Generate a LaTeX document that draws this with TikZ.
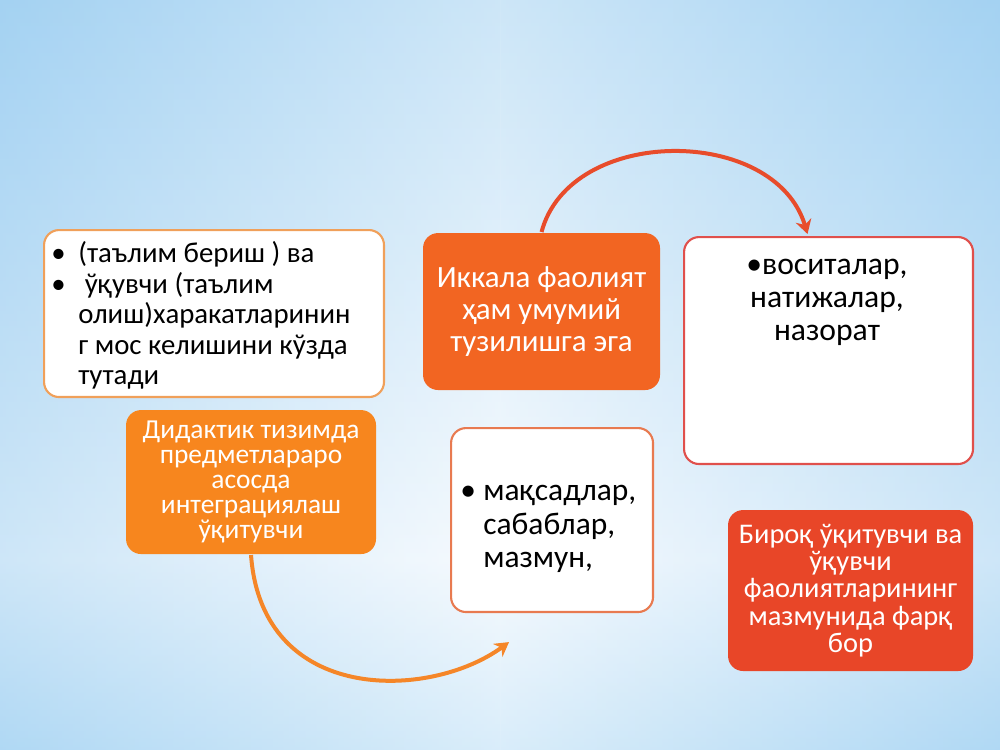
\documentclass[tikz,border=0pt]{standalone}
\usepackage{fontspec}
\setmainfont{Carlito}
\usetikzlibrary{arrows.meta,calc}
\definecolor{bgtop}{RGB}{164,210,242}
\definecolor{bgmid}{RGB}{240,247,253}
\definecolor{bgbot}{RGB}{186,222,246}
\definecolor{lorange}{RGB}{240,160,90}
\definecolor{dorange}{RGB}{242,101,34}
\definecolor{morange}{RGB}{247,134,30}
\definecolor{redor}{RGB}{232,70,40}
\definecolor{redbord}{RGB}{224,80,76}
\definecolor{b5bord}{RGB}{232,122,80}
\definecolor{arcred}{RGB}{232,76,43}
\definecolor{arcor}{RGB}{245,134,40}
\tikzset{
  box/.style={rounded corners=0.3cm, line width=1.2pt, anchor=north west, inner sep=0pt},
  wbox/.style={box, fill=white},
  fbox/.style={box, text=white, align=center},
  arcline/.style={line width=0.08cm, -{Stealth[length=0.28cm,width=0.32cm]}},
}
\begin{document}
\begin{tikzpicture}[x=0.02cm,y=-0.02cm]
\useasboundingbox (0,0) rectangle (1000,750);
% background
\shade[top color=bgtop, bottom color=bgmid] (0,0) rectangle (1000,560);
\shade[top color=bgmid, bottom color=bgbot] (0,560) rectangle (1000,750);
\shade[left color=bgtop, right color=white, opacity=0.45] (0,0) rectangle (500,750);
\shade[left color=white, right color=bgtop, opacity=0.45] (500,0) rectangle (1000,750);
% box 1
\node[wbox, draw=lorange, minimum width=6.8cm, minimum height=3.34cm] (b1) at (43,229) {};
\node[anchor=north west, align=left, inner sep=0pt, font=\fontsize{16.4}{17.4}\selectfont] (t1) at (51,241)
 {\makebox[0.54cm][l]{•}(таълим бериш ) ва\\
  \makebox[0.54cm][l]{•} ўқувчи (таълим\\
  \hspace*{0.54cm}олиш)харакатларинин\\
  \hspace*{0.54cm}г мос келишини кўзда\\
  \hspace*{0.54cm}тутади};
% box 2
\node[fbox, fill=dorange, minimum width=4.74cm, minimum height=3.14cm, font=\fontsize{17.6}{18.4}\selectfont] (b2) at (422,232)
 {Иккала фаолият\\ ҳам умумий\\ тузилишга эга};
% box 3
\node[wbox, draw=redbord, minimum width=5.78cm, minimum height=4.54cm] (b3) at (683,236) {};
\node[anchor=north, align=center, inner sep=0pt, font=\fontsize{18}{18.8}\selectfont] (t3) at (827,259)
 {•воситалар,\\ натижалар,\\ назорат};
% box 4
\node[fbox, fill=morange, minimum width=5cm, minimum height=2.88cm, font=\fontsize{15.6}{14.2}\selectfont] (b4) at (125,409)
 {Дидактик тизимда\\ предметлараро\\ асосда\\ интеграциялаш\\ ўқитувчи};
% box 5
\node[wbox, draw=b5bord, minimum width=4.04cm, minimum height=3.68cm] (b5) at (450,427) {};
\node[anchor=north west, align=left, inner sep=0pt, font=\fontsize{17.9}{19}\selectfont] (t5) at (460,485)
 {\makebox[0.46cm][l]{•}мақсадлар,\\ \hspace*{0.46cm}сабаблар,\\ \hspace*{0.46cm}мазмун,};
% box 6
\node[fbox, fill=redor, minimum width=4.9cm, minimum height=3.22cm, font=\fontsize{16.2}{15.6}\selectfont] (b6) at (727,509)
 {Бироқ ўқитувчи ва\\ ўқувчи\\ фаолиятларининг\\ мазмунида фарқ\\ бор};
% arrows
\draw[arcline, draw=arcred] (b2.north) .. controls (570,125) and (775,125) .. ($(b3.north)+(-21,-2)$);
\coordinate (e2) at ($(b5.south)+(-43,29)$);
\draw[arcline, draw=arcor] (b4.south) .. controls (262,705) and (430,700) .. (e2);
\end{tikzpicture}
\end{document}
